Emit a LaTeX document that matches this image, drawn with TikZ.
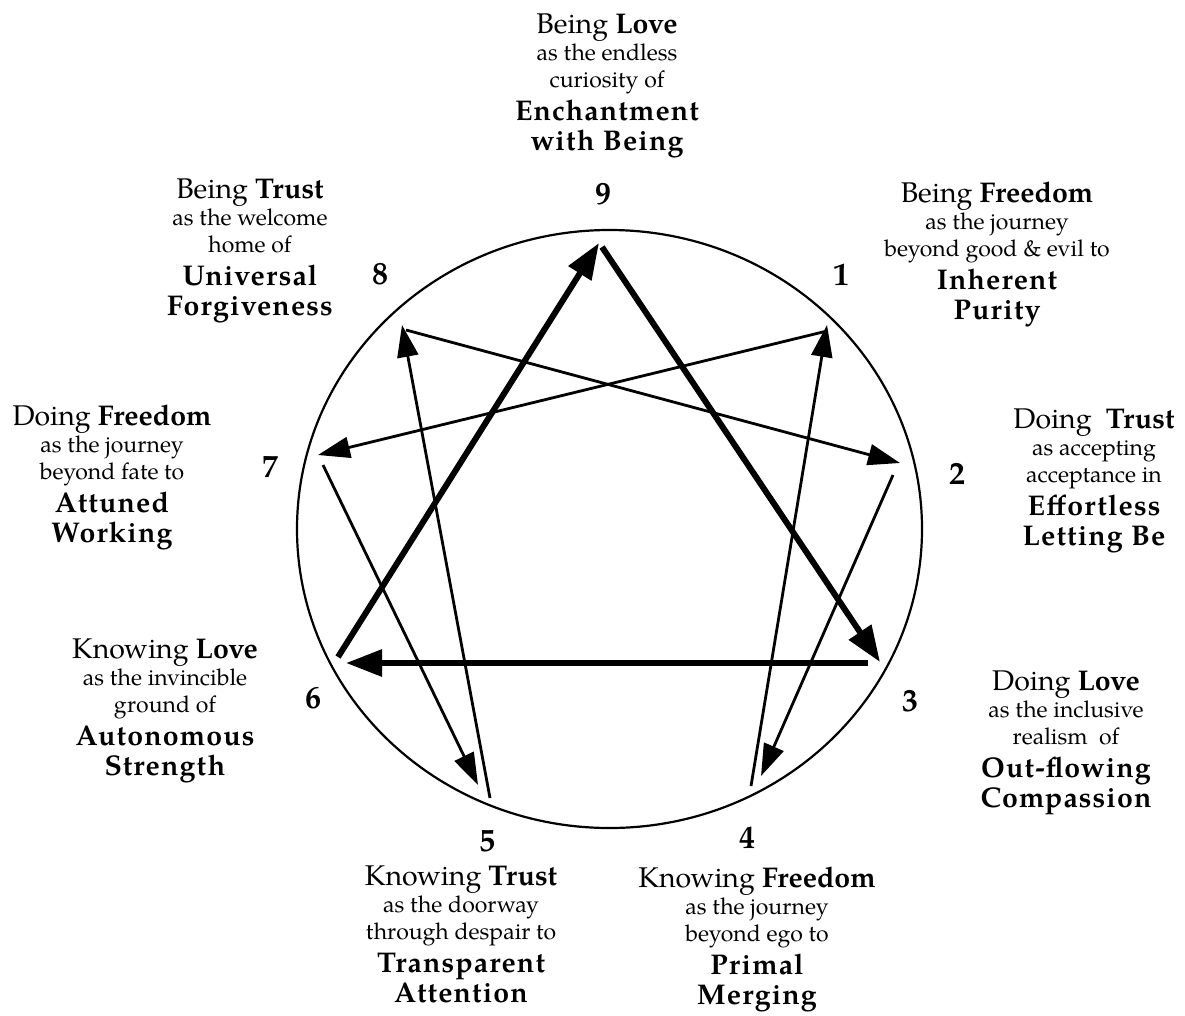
\documentclass[tikz,border=0pt]{standalone}
\usepackage{fontspec}
\setmainfont{TeX Gyre Pagella}
\newfontfamily\spacedfont{TeX Gyre Pagella}[LetterSpace=4]
\usetikzlibrary{arrows.meta,shapes.geometric}
\tikzset{
  lineone/.style={anchor=base, inner sep=0pt, font=\fontsize{28.5}{30}\selectfont},
  linesm/.style={anchor=base, inner sep=0pt, font=\fontsize{23}{26}\selectfont},
  linebf/.style={anchor=base, inner sep=0pt, font=\spacedfont\bfseries\fontsize{28.5}{30}\selectfont},
  numlbl/.style={anchor=base, inner sep=0pt, font=\bfseries\fontsize{32}{34}\selectfont},
  thinarrow/.style={line width=2.8pt, -{Triangle[length=32pt,width=21pt]}},
  thickarrow/.style={line width=6pt, -{Triangle[length=36pt,width=26pt]}},
  ring/.style={draw, ellipse, line width=2.2pt, inner sep=0pt}
}
\newcommand\blockfive[8]{%
  \node[lineone] (#1a) at (#2,#3) {#4};
  \node[linesm] (#1b) at (#2,#3+27) {#5};
  \node[linesm] (#1c) at (#2,#3+54) {#6};
  \node[linebf] (#1d) at (#2,#3+87) {#7};
  \node[linebf] (#1e) at (#2,#3+117) {#8};
}
\begin{document}
\begin{tikzpicture}[x=1pt,y=-1pt]
\useasboundingbox (0,0) rectangle (1185,1015);
\node[ring, minimum width=625pt, minimum height=598pt] (circ) at (609.5,529) {};

\coordinate (t9) at (599,243);
\coordinate (s9) at (602,247);
\coordinate (t3) at (880,662);
\coordinate (s3) at (868,663);
\coordinate (t6) at (346,663);
\coordinate (s6) at (338,657);
\coordinate (t1) at (827,325);
\coordinate (s1) at (827,331);
\coordinate (t7) at (318,455);
\coordinate (s7) at (323,465);
\coordinate (t5) at (478,785);
\coordinate (s5) at (490,798);
\coordinate (t8) at (402,325);
\coordinate (s8) at (406,330);
\coordinate (t2) at (900,463);
\coordinate (s2) at (893,475);
\coordinate (t4) at (761,776);
\coordinate (s4) at (751,786);

\draw[thickarrow] (s9) -- (t3);
\draw[thickarrow] (s3) -- (t6);
\draw[thickarrow] (s6) -- (t9);
\draw[thinarrow] (s1) -- (t7);
\draw[thinarrow] (s7) -- (t5);
\draw[thinarrow] (s5) -- (t8);
\draw[thinarrow] (s8) -- (t2);
\draw[thinarrow] (s2) -- (t4);
\draw[thinarrow] (s4) -- (t1);

\blockfive{n9}{607}{33}{Being \textbf{Love}}{as the endless}{curiosity of}{Enchantment}{with Being}
\blockfive{n8}{250}{198}{Being \textbf{Trust}}{as the welcome}{home of}{Universal}{Forgiveness}
\blockfive{n1}{997}{202}{Being \textbf{Freedom}}{as the journey}{beyond good \& evil to}{Inherent}{Purity}
\blockfive{n7}{112}{425}{Doing \textbf{Freedom}}{as the journey}{beyond fate to}{Attuned}{Working}
\blockfive{n2}{1094}{428}{Doing\ \ \textbf{Trust}}{as accepting}{acceptance in}{Effortless}{Letting Be}
\blockfive{n6}{165}{658}{Knowing \textbf{Love}}{as the invincible}{ground of}{Autonomous}{Strength}
\blockfive{n3}{1066}{690}{Doing \textbf{Love}}{as the inclusive}{realism\ \ of}{Out-flowing}{Compassion}
\blockfive{n5}{461}{885}{Knowing \textbf{Trust}}{as the doorway}{through despair to}{Transparent}{Attention}
\blockfive{n4}{757}{887}{Knowing \textbf{Freedom}}{as the journey}{beyond ego to}{Primal}{Merging}

\node[numlbl] (d9) at (603,204) {9};
\node[numlbl] (d8) at (380,284) {8};
\node[numlbl] (d1) at (841,285) {1};
\node[numlbl] (d7) at (270,477) {7};
\node[numlbl] (d2) at (957,484) {2};
\node[numlbl] (d6) at (313,708) {6};
\node[numlbl] (d3) at (910,711) {3};
\node[numlbl] (d5) at (487,851) {5};
\node[numlbl] (d4) at (747,848) {4};
\end{tikzpicture}
\end{document}
